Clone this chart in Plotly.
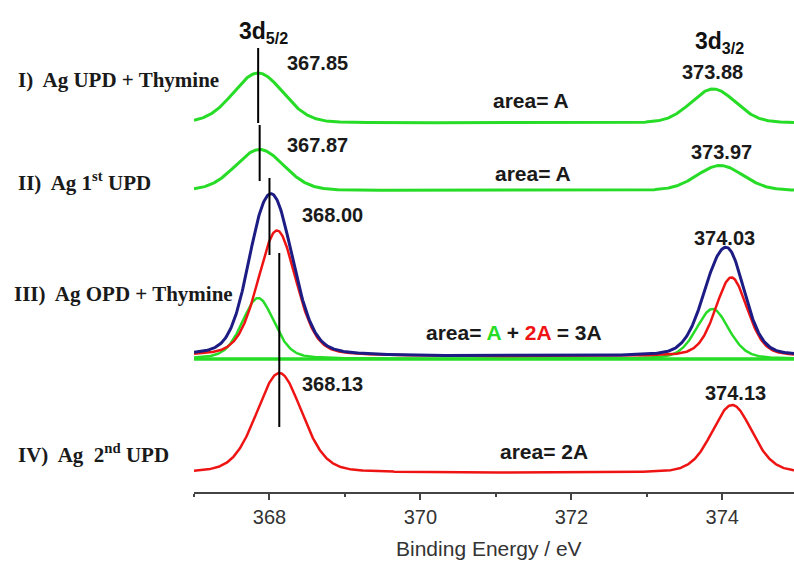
import numpy as np
import plotly.graph_objects as go

# ---- fitted peak parameters (binding energy in eV, intensity in a.u.) ----
energy_min, energy_max = 367.0, 374.95

# I) Ag UPD + Thymine
s1_base = 369.0
s1_centers = [367.85, 373.88]
s1_heights = [50.0, 34.0]
s1_fwhm = [0.78, 0.70]
s1_eta = 0.12

# II) Ag 1st UPD
s2_base = 301.5
s2_centers = [367.87, 373.97]
s2_heights = [41.0, 25.0]
s2_fwhm = [0.76, 0.72]
s2_eta = 0.12

# III) Ag OPD + Thymine : two components + envelope
s3_base = 133.0
s3_bg = 2.5
s3_green_centers = [367.85, 373.87]
s3_green_heights = [61.0, 50.0]
s3_green_fwhm = [0.50, 0.51]
s3_red_centers = [368.10, 374.12]
s3_red_heights = [126.0, 79.0]
s3_red_fwhm = [0.60, 0.50]
s3_eta = 0.3

# IV) Ag 2nd UPD
s4_base = 19.0
s4_centers = [368.13, 374.13]
s4_heights = [100.0, 68.0]
s4_fwhm = [0.71, 0.63]
s4_eta = 0.25

# peak-position labels and marker lines
peak_labels = ["367.85", "367.87", "368.00", "368.13"]
peak_label_pos = [(368.63, 429), (368.64, 347), (368.83, 277), (368.84, 108)]
doublet_labels = ["373.88", "373.97", "374.03", "374.13"]
doublet_label_pos = [(373.87, 420), (373.99, 340), (374.03, 254), (374.17, 99)]
marker_x = [367.85, 367.87, 368.00, 368.13]
marker_y = [(444, 369), (367, 311), (314, 237), (239, 65)]

GREEN = "#27dc27"
RED = "#ee1414"
NAVY = "#1c1c84"

x = np.linspace(energy_min, energy_max, 900)


def pvoigt(xx, c, h, w, eta):
    d = (xx - c) / w
    return h * (eta / (1 + 4 * d ** 2) + (1 - eta) * np.exp(-4 * np.log(2) * d ** 2))


def doublet(centers, heights, fwhms, eta):
    return sum(pvoigt(x, c, h, w, eta) for c, h, w in zip(centers, heights, fwhms))


fig = go.Figure()

y1 = s1_base + doublet(s1_centers, s1_heights, s1_fwhm, s1_eta)
y2 = s2_base + doublet(s2_centers, s2_heights, s2_fwhm, s2_eta)
g3 = doublet(s3_green_centers, s3_green_heights, s3_green_fwhm, s3_eta)
r3 = doublet(s3_red_centers, s3_red_heights, s3_red_fwhm, s3_eta)
y4 = s4_base + doublet(s4_centers, s4_heights, s4_fwhm, s4_eta)

line_kw = dict(mode="lines", hoverinfo="skip", showlegend=False)
fig.add_trace(go.Scatter(x=x, y=y1, line=dict(color=GREEN, width=3), **line_kw))
fig.add_trace(go.Scatter(x=x, y=y2, line=dict(color=GREEN, width=3), **line_kw))
fig.add_trace(go.Scatter(x=[energy_min, energy_max], y=[s3_base, s3_base],
                         line=dict(color=GREEN, width=3.5), **line_kw))
fig.add_trace(go.Scatter(x=x, y=s3_base + g3, line=dict(color=GREEN, width=2.5), **line_kw))
fig.add_trace(go.Scatter(x=x, y=s3_base + s3_bg + r3, line=dict(color=RED, width=2.5), **line_kw))
fig.add_trace(go.Scatter(x=x, y=s3_base + s3_bg + g3 + r3, line=dict(color=NAVY, width=3), **line_kw))
fig.add_trace(go.Scatter(x=x, y=y4, line=dict(color=RED, width=2.5), **line_kw))

# vertical markers at the 3d5/2 positions
for mx, (ya, yb) in zip(marker_x, marker_y):
    fig.add_shape(type="line", x0=mx, x1=mx, y0=ya, y1=yb,
                  line=dict(color="black", width=2))

num_font = dict(family="Liberation Sans, Arial", size=20, color="#1a1a1a")
for txt, (px, py) in zip(peak_labels + doublet_labels, peak_label_pos + doublet_label_pos):
    fig.add_annotation(x=px, y=py, text=f"<b>{txt}</b>", showarrow=False, font=num_font,
                       xanchor="center", yanchor="middle")

area_font = dict(family="Liberation Sans, Arial", size=21, color="#1a1a1a")
area_texts = [
    "<b>area= A</b>",
    "<b>area= A</b>",
    f"<b>area= <span style='color:{GREEN}'>A</span> + <span style='color:{RED}'>2A</span> = 3A</b>",
    "<b>area= 2A</b>",
]
area_pos = [(371.46, 392), (371.49, 319), (371.245, 160), (371.64, 41)]
for txt, (px, py) in zip(area_texts, area_pos):
    fig.add_annotation(x=px, y=py, text=txt, showarrow=False, font=area_font,
                       xanchor="center", yanchor="middle")

# spin-orbit component headers
head_font = dict(family="Liberation Sans, Arial", size=23, color="#111111")
fig.add_annotation(x=367.57, y=460, text="<b>3d<sub>5/2</sub></b>", showarrow=False,
                   font=head_font, xanchor="left", yanchor="middle")
fig.add_annotation(x=373.61, y=450, text="<b>3d<sub>3/2</sub></b>", showarrow=False,
                   font=head_font, xanchor="left", yanchor="middle")

# sample labels on the left
sample_font = dict(family="Liberation Serif, Times New Roman", size=21, color="#1a1a1a")
sample_texts = [
    "<b>I)  Ag UPD + Thymine</b>",
    "<b>II)  Ag 1<sup>st</sup> UPD</b>",
    "<b>III)  Ag OPD + Thymine</b>",
    "<b>IV)  Ag  2<sup>nd</sup> UPD</b>",
]
sample_pos = [(-0.297, 412), (-0.297, 311), (-0.303, 198), (-0.297, 39)]
for txt, (px, py) in zip(sample_texts, sample_pos):
    fig.add_annotation(xref="paper", x=px, y=py, text=txt, showarrow=False,
                       font=sample_font, xanchor="left", yanchor="middle")

fig.add_annotation(xref="paper", yref="paper", x=0.492, y=-0.114,
                   text="Binding Energy / eV", showarrow=False,
                   font=dict(family="Liberation Sans, Arial", size=21, color="#333333"),
                   xanchor="center", yanchor="middle")

fig.update_layout(
    width=794, height=565,
    margin=dict(l=194, r=0, t=0, b=73),
    paper_bgcolor="white", plot_bgcolor="white",
    xaxis=dict(
        range=[energy_min, energy_max], showgrid=False, zeroline=False,
        showline=True, linecolor="#444444", linewidth=1.5,
        ticks="outside", ticklen=6, tickwidth=1.5, tickcolor="#444444",
        tickvals=[368, 370, 372, 374],
        tickfont=dict(family="Liberation Sans, Arial", size=20, color="#333333"),
        minor=dict(tickvals=[367, 369, 371, 373], ticks="outside", ticklen=3,
                   tickwidth=1.5, tickcolor="#444444"),
    ),
    yaxis=dict(range=[0, 492], visible=False, fixedrange=True),
)

fig.write_html("out.html")
